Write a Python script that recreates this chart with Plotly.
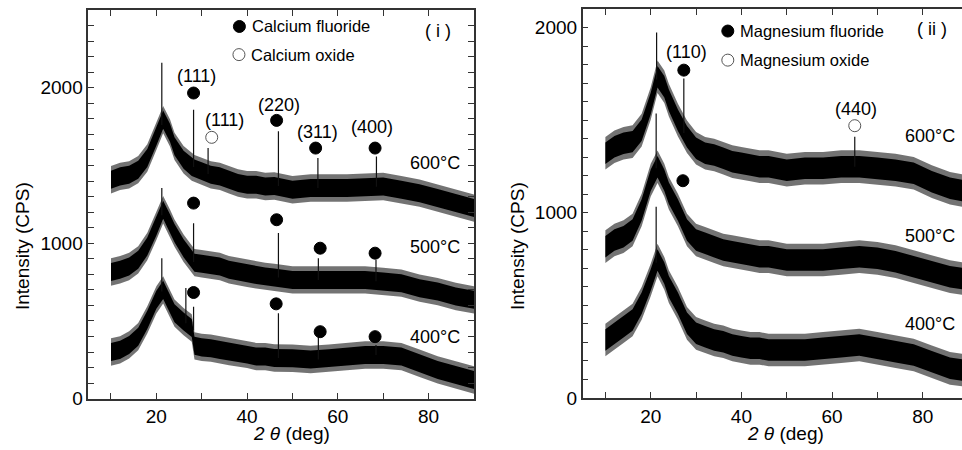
import plotly.graph_objects as go

# ---------------- data ----------------
# left panel (i): calcium samples
CA_X = [10, 12, 14, 16, 18, 20, 21.5, 23, 24, 26, 27.8, 28.4, 30, 32, 34, 36, 38, 40, 42, 44, 46,
        50, 54, 58, 62, 66, 70, 74, 78, 82, 86, 90]
CA_600 = [1408, 1430, 1440, 1473, 1548, 1687, 1795, 1710, 1623, 1537, 1490, 1480, 1462, 1440, 1430, 1408,
          1387, 1376, 1376, 1365, 1368, 1344, 1355, 1355, 1355, 1360, 1365, 1344, 1322, 1290, 1258, 1226]
CA_500 = [815, 829, 850, 893, 979, 1108, 1215, 1129, 1065, 968, 900, 875, 868, 861, 850, 829,
          818, 807, 796, 786, 780, 764, 764, 764, 764, 764, 754, 743, 711, 689, 657, 636]
CA_400 = [300, 314, 346, 399, 507, 636, 700, 614, 550, 496, 455, 340, 330, 325, 314, 303,
          292, 285, 271, 271, 262, 260, 252, 260, 271, 281, 281, 271, 228, 185, 153, 120]

# right panel (ii): magnesium samples
MG_X = [10, 12, 14, 16, 18, 20, 21.5, 23, 24, 26, 28, 30, 32, 34, 36, 38, 40, 42, 44, 46,
        50, 54, 58, 62, 66, 70, 74, 78, 82, 86, 88.7]
MG_600 = [1321, 1356, 1375, 1384, 1446, 1590, 1734, 1680, 1608, 1500, 1410, 1348, 1321, 1312, 1294, 1276,
          1267, 1258, 1249, 1249, 1230, 1240, 1240, 1249, 1249, 1240, 1230, 1213, 1168, 1132, 1120]
MG_500 = [817, 853, 871, 907, 1015, 1176, 1248, 1176, 1105, 1015, 907, 853, 835, 817, 799, 790,
          781, 772, 763, 763, 745, 745, 745, 754, 763, 754, 736, 709, 682, 655, 645]
MG_400 = [313, 349, 385, 421, 511, 637, 745, 673, 601, 511, 403, 349, 331, 313, 304, 286,
          277, 268, 268, 259, 259, 259, 268, 277, 286, 268, 250, 232, 196, 160, 151]

# spread of the counting noise (CPS): dense core and outer fringe
NOISE_CORE = 58
NOISE_FRINGE = 88

# sharp peaks: position, base, top
CA600_PK_X = [21.2, 28.2, 31.4, 46.9, 55.6, 68.5]
CA600_PK_B = [1760, 1490, 1445, 1368, 1355, 1363]
CA600_PK_T = [2160, 1859, 1612, 1720, 1548, 1558]
CA500_PK_X = [21.2, 28.2, 46.9, 55.7, 68.4]
CA500_PK_B = [1180, 880, 780, 764, 756]
CA500_PK_T = [1355, 1129, 1065, 904, 893]
CA400_PK_X = [21.2, 26.5, 28.2, 46.9, 55.7, 68.4]
CA400_PK_B = [690, 485, 440, 262, 252, 281]
CA400_PK_T = [904, 712, 592, 550, 399, 346]
MG600_PK_X = [21.3, 27.3, 65.0]
MG600_PK_B = [1720, 1430, 1249]
MG600_PK_T = [1973, 1725, 1410]
MG500_PK_X = [21.2]
MG500_PK_B = [1240]
MG500_PK_T = [1536]
MG400_PK_X = [21.2]
MG400_PK_B = [730]
MG400_PK_T = [1032]

# phase markers
CA_F_X = [28.2, 46.5, 55.1, 68.2, 28.2, 46.5, 56.1, 68.2, 28.2, 46.4, 56.1, 68.2]
CA_F_Y = [1966, 1790, 1612, 1612, 1258, 1151, 968, 936, 683, 610, 431, 399]
CA_O_X = [32.2]
CA_O_Y = [1681]
MG_F_X = [27.3, 27.1]
MG_F_Y = [1770, 1173]
MG_O_X = [65.0]
MG_O_Y = [1470]

# text labels
CA_LAB = [("(111)", 28.8, 2074), ("(111)", 35.0, 1795), ("(220)", 47.0, 1891),
          ("(311)", 55.4, 1715), ("(400)", 67.5, 1748),
          ("600°C", 81.4, 1516), ("500°C", 81.4, 975), ("400°C", 81.4, 395), ("( i )", 82.0, 2363)]
MG_LAB = [("(110)", 27.8, 1869), ("(440)", 65.2, 1560),
          ("600°C", 81.6, 1414), ("500°C", 81.6, 874), ("400°C", 81.6, 399), ("( ii )", 82.1, 1990)]
CA_LEG = [("Calcium fluoride", 38.3, 2394, True), ("Calcium oxide", 38.2, 2213, False)]
MG_LEG = [("Magnesium fluoride", 37.0, 1981, True), ("Magnesium oxide", 37.0, 1824, False)]

# ---------------- figure ----------------
FONT = "Liberation Sans, Arial, Helvetica, sans-serif"
fig = go.Figure()


def band(xs, ys, xa, ya):
    px = list(xs) + list(xs[::-1])
    for half, col in ((NOISE_FRINGE, "rgba(0,0,0,0.55)"), (NOISE_CORE, "rgba(0,0,0,1)")):
        py = [v + half for v in ys] + [v - half for v in ys[::-1]]
        fig.add_trace(go.Scatter(x=px, y=py, fill="toself", fillcolor=col,
                                 line=dict(width=0), mode="lines",
                                 xaxis=xa, yaxis=ya, showlegend=False, hoverinfo="skip"))


def peaks(px, pb, pt, xa, ya):
    xx, yy = [], []
    for a, b, t in zip(px, pb, pt):
        xx += [a, a, None]
        yy += [b, t, None]
    fig.add_trace(go.Scatter(x=xx, y=yy, mode="lines", line=dict(color="#111111", width=1.2),
                             xaxis=xa, yaxis=ya, showlegend=False, hoverinfo="skip"))


def marks(xs, ys, filled, xa, ya):
    fig.add_trace(go.Scatter(x=xs, y=ys, mode="markers", xaxis=xa, yaxis=ya, showlegend=False,
                             marker=dict(size=12, symbol="circle",
                                         color="#000000" if filled else "#ffffff",
                                         line=dict(color="#000000" if filled else "#555555", width=1)),
                             hoverinfo="skip"))


for ys in (CA_600, CA_500, CA_400):
    band(CA_X, ys, "x", "y")
for ys in (MG_600, MG_500, MG_400):
    band(MG_X, ys, "x2", "y2")

peaks(CA600_PK_X, CA600_PK_B, CA600_PK_T, "x", "y")
peaks(CA500_PK_X, CA500_PK_B, CA500_PK_T, "x", "y")
peaks(CA400_PK_X, CA400_PK_B, CA400_PK_T, "x", "y")
peaks(MG600_PK_X, MG600_PK_B, MG600_PK_T, "x2", "y2")
peaks(MG500_PK_X, MG500_PK_B, MG500_PK_T, "x2", "y2")
peaks(MG400_PK_X, MG400_PK_B, MG400_PK_T, "x2", "y2")

marks(CA_F_X, CA_F_Y, True, "x", "y")
marks(CA_O_X, CA_O_Y, False, "x", "y")
marks(MG_F_X, MG_F_Y, True, "x2", "y2")
marks(MG_O_X, MG_O_Y, False, "x2", "y2")

ann = []
for txt, x, y in CA_LAB:
    ann.append(dict(text=txt, x=x, y=y, xref="x", yref="y", showarrow=False,
                    xanchor="center", yanchor="middle", font=dict(size=18, color="#000")))
for txt, x, y in MG_LAB:
    ann.append(dict(text=txt, x=x, y=y, xref="x2", yref="y2", showarrow=False,
                    xanchor="center", yanchor="middle", font=dict(size=18, color="#000")))
for leg, xa, ya in ((CA_LEG, "x", "y"), (MG_LEG, "x2", "y2")):
    for txt, x, y, filled in leg:
        marks([x], [y], filled, xa, ya)
        ann.append(dict(text=txt, x=x + 2.3, y=y, xref=xa, yref=ya, xanchor="left",
                        yanchor="middle", showarrow=False, font=dict(size=16.5, color="#000")))

# axis titles
for xc in (291 / 962, 785 / 962):
    ann.append(dict(text="<i>2 θ</i> (deg)", x=xc, y=1 - 433 / 450, xref="paper", yref="paper",
                    xanchor="center", yanchor="middle",
                    showarrow=False, font=dict(size=19, color="#000")))
for xc in (23 / 962, 518 / 962):
    ann.append(dict(text="Intensity (CPS)", x=xc, y=1 - 246 / 450, xref="paper", yref="paper",
                    xanchor="center", yanchor="middle",
                    showarrow=False, textangle=-90, font=dict(size=19, color="#000")))

axis_common = dict(showline=True, linecolor="#333333", linewidth=1.5, ticks="inside",
                   ticklen=6, tickcolor="#333333", tickwidth=1.2, showgrid=False, zeroline=False,
                   automargin=False, tickfont=dict(size=19, color="#000"))

fig.update_layout(
    width=962, height=450, autosize=False,
    margin=dict(l=0, r=0, t=0, b=0, autoexpand=False),
    paper_bgcolor="white", plot_bgcolor="white",
    font=dict(family=FONT, color="#000"),
    showlegend=False,
    annotations=ann,
    xaxis=dict(domain=[88.3 / 962, 474 / 962], range=[5, 90], tick0=0, dtick=20, mirror="ticks",
               minor=dict(dtick=10, tick0=0, ticks="inside", ticklen=6, tickcolor="#333333"),
               anchor="y", **axis_common),
    yaxis=dict(domain=[1 - 398.7 / 450, 1 - 10 / 450], range=[0, 2500], tick0=0, dtick=1000,
               mirror="ticks",
               minor=dict(dtick=100, tick0=0, ticks="inside", ticklen=6, tickcolor="#333333"),
               anchor="x", **axis_common),
    xaxis2=dict(domain=[582.7 / 962, 1.0], range=[5, 88.65], tick0=0, dtick=20, mirror="ticks",
                minor=dict(dtick=10, tick0=0, ticks="inside", ticklen=6, tickcolor="#333333"),
                anchor="y2", **axis_common),
    yaxis2=dict(domain=[1 - 398 / 450, 1 - 9 / 450], range=[0, 2100], tick0=0, dtick=1000,
                minor=dict(dtick=100, tick0=0, ticks="inside", ticklen=6, tickcolor="#333333"),
                anchor="x2", **axis_common),
)

fig.write_html("out.html", config={"displayModeBar": False},
               post_script="document.body.style.margin='0';document.body.style.overflow='hidden';")
